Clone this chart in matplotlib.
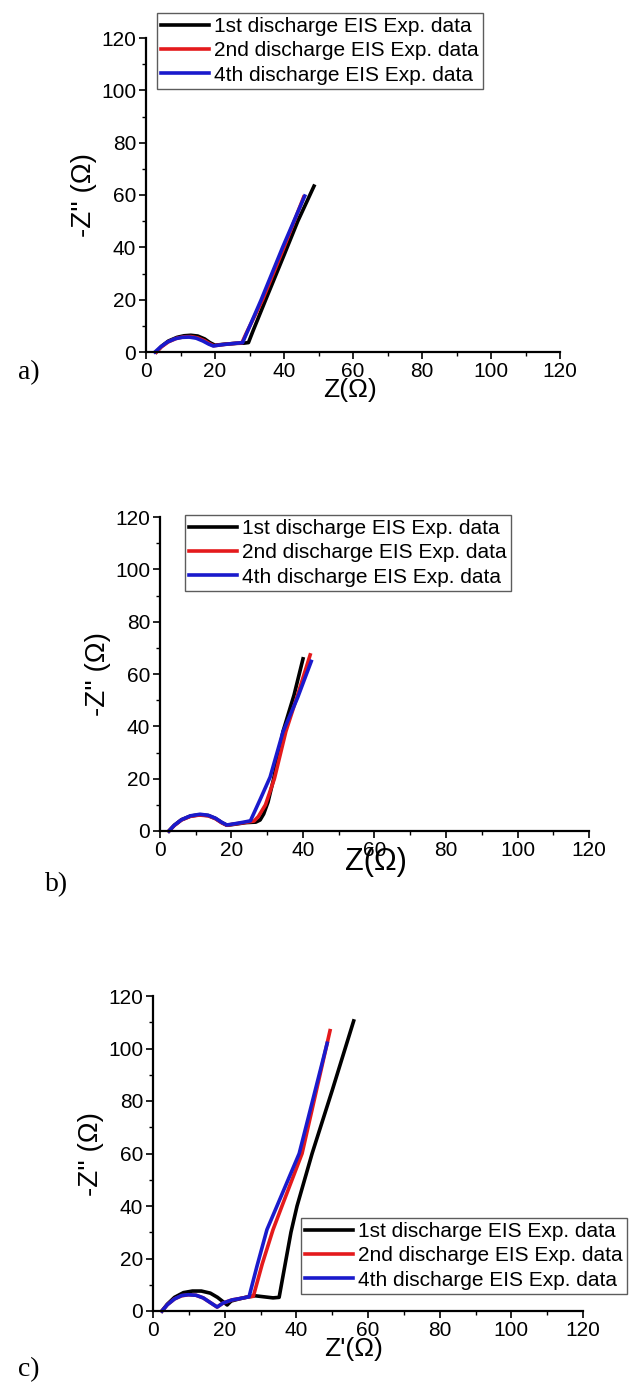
import numpy as np
import matplotlib
matplotlib.use("Agg")
import matplotlib.pyplot as plt
from matplotlib.ticker import MultipleLocator

plt.rcParams['font.family'] = ['Liberation Sans', 'DejaVu Sans']

labels = ["1st discharge EIS Exp. data", "2nd discharge EIS Exp. data", "4th discharge EIS Exp. data"]
colors = ["#000000", "#e41a1c", "#1a1acc"]

# panel a
a1_x = [3.0, 4.5, 6.5, 9, 11, 13, 15, 17, 18.5, 20, 23, 26, 28.5, 29.7, 31, 34.7, 40, 44, 48.7]
a1_y = [0, 2.2, 4.2, 5.6, 6.2, 6.4, 6.1, 5.0, 3.6, 2.6, 3.0, 3.3, 3.4, 3.6, 8, 20, 37, 50, 63.4]
a2_x = [3.0, 4.5, 6.5, 9, 11, 13, 15, 17, 18.5, 19.6, 22, 25, 27.8, 29, 33.8, 40, 45.7]
a2_y = [0, 2.0, 3.9, 5.3, 5.8, 5.9, 5.4, 4.3, 3.1, 2.4, 2.8, 3.2, 3.5, 7, 20, 40, 59.2]
a4_x = [2.6, 4.2, 6.2, 8.5, 10.5, 12.5, 14.5, 16.5, 18.2, 19.5, 22, 25, 28.0, 33.4, 39.6, 46.0]
a4_y = [0, 1.9, 3.8, 5.1, 5.6, 5.7, 5.3, 4.2, 3.0, 2.3, 2.8, 3.2, 3.6, 20, 40, 59.6]

# panel b
b1_x = [2.5, 4, 6, 8.5, 11, 13.5, 15.5, 17.3, 18.7, 21, 24, 26.8, 28, 29, 30.2, 31.8, 34.4, 37.5, 40]
b1_y = [0, 2.2, 4.3, 5.7, 6.2, 5.9, 4.8, 3.2, 2.2, 2.6, 3.2, 3.4, 4.2, 6.5, 11, 20, 38, 52, 65.8]
b2_x = [2.5, 4, 6, 8.5, 11, 13.5, 15.5, 17.3, 18.7, 21, 24, 26.3, 27.5, 29.5, 32, 35.2, 38.5, 42]
b2_y = [0, 2.1, 4.2, 5.6, 6.1, 5.8, 4.7, 3.1, 2.2, 2.7, 3.3, 3.8, 5.5, 10, 20, 38, 52, 67.3]
b4_x = [2.5, 4, 6, 8.5, 11.2, 13.5, 15.5, 17.3, 18.7, 21, 23.5, 25.3, 28, 30.8, 34.4, 38.5, 42.3]
b4_y = [0, 2.2, 4.3, 5.8, 6.4, 6.0, 4.9, 3.3, 2.3, 2.8, 3.4, 3.9, 12, 20.6, 37.9, 51, 64.8]

# panel c
c1_x = [2.5, 4, 6, 8.5, 11, 13.5, 16, 18, 19.5, 20.7, 21.8, 24, 26.5, 28.5, 31, 33.5, 35.2, 36.5, 38.5, 40.2, 44.4, 50, 56]
c1_y = [0, 2.6, 5.2, 7.0, 7.6, 7.6, 6.8, 5.2, 3.6, 2.3, 3.8, 4.6, 5.4, 5.8, 5.4, 5.0, 5.2, 15, 30, 40, 60, 84, 110.5]
c2_x = [2.5, 4, 6, 8, 10, 12, 14, 16, 17.9, 19.5, 22, 24.5, 26.8, 28, 30.5, 33.5, 36, 41.6, 49.4]
c2_y = [0, 2.4, 4.6, 5.8, 6.2, 6.0, 5.0, 3.2, 1.5, 3.0, 4.2, 4.8, 5.4, 5.6, 18, 31, 40, 60, 106.8]
c4_x = [2.5, 4, 6, 8, 9.8, 12, 14, 16, 17.9, 19.5, 22, 24.5, 26.8, 29, 31.8, 34.6, 40.8, 48.6]
c4_y = [0, 2.4, 4.6, 5.9, 6.2, 6.0, 5.0, 3.2, 1.5, 3.0, 4.2, 4.8, 5.4, 17, 31, 40, 60, 102]

W, H = 638, 1390
fig = plt.figure(figsize=(W / 100, H / 100), dpi=100)


def px_axes(l, r, t, b):
    return fig.add_axes([l / W, 1 - b / H, (r - l) / W, (b - t) / H])


def style(ax):
    ax.set_xlim(0, 120)
    ax.set_ylim(0, 120)
    ax.spines['top'].set_visible(False)
    ax.spines['right'].set_visible(False)
    for s in ['left', 'bottom']:
        ax.spines[s].set_linewidth(1.6)
    ax.xaxis.set_major_locator(MultipleLocator(20))
    ax.xaxis.set_minor_locator(MultipleLocator(10))
    ax.yaxis.set_major_locator(MultipleLocator(20))
    ax.yaxis.set_minor_locator(MultipleLocator(10))
    ax.tick_params(which='major', direction='out', length=5, width=1.2, labelsize=15, pad=2)
    ax.tick_params(which='minor', direction='out', length=3, width=1.0)
    ax.set_ylabel("-Z'' (\u03a9)", fontsize=20, labelpad=3)
    ax.patch.set_alpha(0)


panels = [
    (px_axes(146, 560, 38, 352), [(a1_x, a1_y), (a2_x, a2_y), (a4_x, a4_y)]),
    (px_axes(160, 589, 517, 831), [(b1_x, b1_y), (b2_x, b2_y), (b4_x, b4_y)]),
    (px_axes(153, 583, 996, 1311), [(c1_x, c1_y), (c2_x, c2_y), (c4_x, c4_y)]),
]

for ax, series in panels:
    style(ax)
    for (x, y), c, lab in zip(series, colors, labels):
        ax.plot(x, y, color=c, lw=2.6, label=lab, solid_joinstyle='round', clip_on=False)

leg_kw = dict(frameon=True, fancybox=False, fontsize=15, handlelength=2.3, handletextpad=0.25,
              labelspacing=0.25, borderpad=0.2, borderaxespad=0, loc='upper left',
              bbox_transform=fig.transFigure)
ax_a, ax_b, ax_c = [p[0] for p in panels]
for ax, (lx, ly) in [(ax_a, (157, 13)), (ax_b, (185, 515)), (ax_c, (301, 1218))]:
    leg = ax.legend(bbox_to_anchor=(lx / W, 1 - ly / H), **leg_kw)
    leg.get_frame().set_edgecolor('#333333')
    leg.get_frame().set_linewidth(1.0)

fig.text(350 / W, 1 - 390 / H, "Z(\u03a9)", ha='center', va='center', fontsize=19)
fig.text(376 / W, 1 - 862 / H, "Z(\u03a9)", ha='center', va='center', fontsize=22)
fig.text(354 / W, 1 - 1349 / H, "Z'(\u03a9)", ha='center', va='center', fontsize=19)

for t, (x, y) in [("a)", (18, 373)), ("b)", (45, 885)), ("c)", (18, 1370))]:
    fig.text(x / W, 1 - y / H, t, ha='left', va='center', fontsize=20, family='Liberation Serif')

fig.savefig("out.png", dpi=100)
